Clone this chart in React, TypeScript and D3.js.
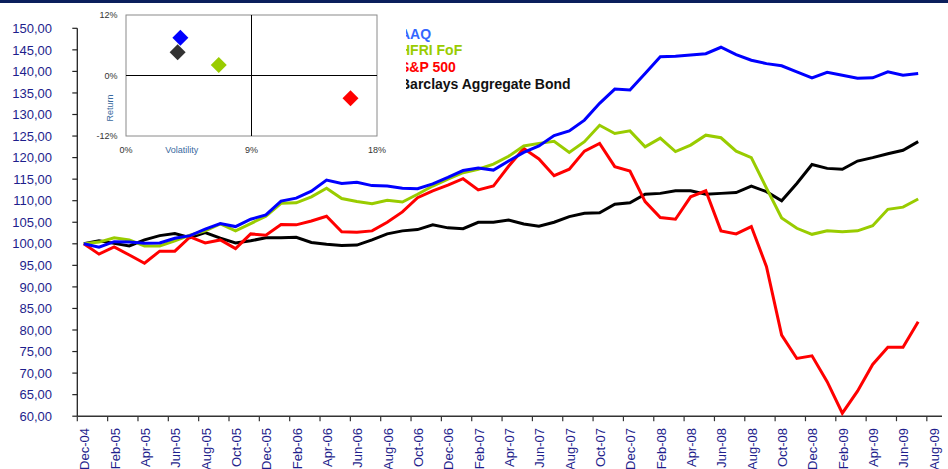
import React from 'react';
import * as d3 from 'd3';

// ---- data ----
const tickLabels = ["Dec-04","Feb-05","Apr-05","Jun-05","Aug-05","Oct-05","Dec-05","Feb-06","Apr-06","Jun-06","Aug-06","Oct-06","Dec-06","Feb-07","Apr-07","Jun-07","Aug-07","Oct-07","Dec-07","Feb-08","Apr-08","Jun-08","Aug-08","Oct-08","Dec-08","Feb-09","Apr-09","Jun-09","Aug-09"];

// monthly values, Dec-04 .. Jul-09
const aaq = [100,99.2,100.5,100.4,100.1,100.2,101.3,101.9,103.4,104.7,104.0,105.7,106.7,109.9,110.6,112.2,114.8,114.0,114.3,113.5,113.4,112.9,112.8,113.9,115.4,117.0,117.6,117.1,119.2,121.2,122.7,125.1,126.2,128.7,132.6,135.9,135.7,139.5,143.4,143.5,143.8,144.1,145.6,143.9,142.6,141.8,141.3,139.9,138.5,139.8,139.1,138.4,138.5,139.9,139.1,139.5];
const hfri = [100,100.4,101.4,100.9,99.5,99.5,100.7,102.0,103.0,104.6,103.0,104.7,106.4,109.4,109.5,110.9,112.9,110.5,109.8,109.3,110.1,109.7,111.5,113.4,115.0,116.5,117.3,118.5,120.3,122.7,123.3,123.8,121.2,123.7,127.5,125.6,126.2,122.5,124.5,121.4,122.9,125.2,124.6,121.5,120.0,112.9,106.0,103.6,102.2,103.0,102.8,103.0,104.2,108.0,108.5,110.4];
const sp500 = [100,97.6,99.3,97.4,95.5,98.3,98.3,101.6,100.2,100.9,98.9,102.3,102.0,104.5,104.4,105.3,106.4,102.8,102.7,103.0,105.0,107.4,110.7,112.3,113.6,115.1,112.5,113.4,118.0,122.1,119.7,115.8,117.3,121.5,123.3,117.9,116.9,109.8,106.1,105.7,110.9,112.3,103.0,102.3,104.0,94.7,78.8,73.4,74.0,68.0,60.7,65.8,72.0,76.0,76.0,81.9];
const barclays = [100,100.7,100.1,99.5,100.9,101.9,102.4,101.4,102.6,101.3,100.2,100.7,101.4,101.4,101.5,100.3,99.9,99.6,99.7,100.9,102.3,103.0,103.3,104.4,103.7,103.5,105.0,105.0,105.5,104.6,104.1,105.0,106.3,107.1,107.2,109.2,109.5,111.5,111.7,112.3,112.3,111.5,111.7,111.9,113.4,112.1,110.0,114.0,118.4,117.5,117.3,119.2,120.0,120.9,121.7,123.7];

const seriesNames = ["AAQ", "HFRI FoF", "S&P 500", "Barclays Aggregate Bond"];
const seriesColors = ["#0000FF", "#99CC00", "#FF0000", "#000000"];
const legendColors = ["#3366FF", "#99CC00", "#FF0000", "#111111"];

// inset: volatility (%) and return (%)
const scatterVol = [3.9, 3.7, 6.65, 16.1];
const scatterRet = [7.5, 4.6, 2.1, -4.5];
const scatterColors = ["#0000FF", "#333333", "#99CC00", "#FF0000"];
const insetXTicks = [0, 9, 18];
const insetYTicks = [12, 0, -12];

const yTicks = d3.range(60, 150.001, 5);

export default function App() {
  const W = 948, H = 469;
  const x = d3.scaleLinear().domain([0, 57]).range([77.3, 942]);
  const y = d3.scaleLinear().domain([60, 150]).range([416.2, 28.3]);
  const offset = 0.43;
  const line = d3.line<number>().x((_, i) => x(i + offset)).y(d => y(d));

  const ix = d3.scaleLinear().domain([0, 18]).range([126, 377]);
  const iy = d3.scaleLinear().domain([-12, 12]).range([136, 15]);

  const navy = "#1E1E8C";
  const drawOrder = [3, 2, 1, 0];
  const allSeries = [aaq, hfri, sp500, barclays];

  return (
    <svg width={W} height={H} style={{ position: 'absolute', left: 0, top: 0, background: '#fff' }}
      fontFamily="Arial, 'Liberation Sans', sans-serif">
      <rect x={0} y={0} width={W} height={H} fill="#fff" />
      <rect x={0} y={0} width={W} height={3} fill="#0B1F5C" />

      {/* y axis */}
      <line x1={x(0)} x2={x(0)} y1={y(150)} y2={y(60)} stroke="#222" strokeWidth={1.3} />
      {yTicks.map(t => (
        <g key={t}>
          <line x1={x(0) - 5} x2={x(0)} y1={y(t)} y2={y(t)} stroke="#222" strokeWidth={1.2} />
          <text x={52} y={y(t)} dy="0.36em" textAnchor="end" fontSize={13} fill={navy}>
            {t.toFixed(2).replace('.', ',')}
          </text>
        </g>
      ))}

      {/* x axis */}
      <line x1={x(0)} x2={x(57)} y1={y(60)} y2={y(60)} stroke="#333" strokeWidth={1.6} />
      {tickLabels.map((lab, k) => {
        const xv = x(k * 2);
        return (
          <g key={lab}>
            <line x1={xv} x2={xv} y1={y(60)} y2={y(60) + 5} stroke="#333" strokeWidth={1.2} />
            <text transform={`translate(${xv + 12},428) rotate(-90)`} textAnchor="end" fontSize={13} fill={navy}>{lab}</text>
          </g>
        );
      })}

      {/* series lines */}
      {drawOrder.map(si => (
        <path key={si} d={line(allSeries[si]) || ''} fill="none" stroke={seriesColors[si]} strokeWidth={3} strokeLinejoin="miter" />
      ))}

      {/* legend */}
      {seriesNames.map((n, i) => (
        <text key={n} x={400} y={38.5 + i * 16.9} fontSize={14} fontWeight="bold" fill={legendColors[i]}>{n}</text>
      ))}

      {/* inset chart (white area covers legend start) */}
      <rect x={92} y={6} width={314} height={152} fill="#fff" />
      <rect x={ix(0)} y={iy(12)} width={ix(18) - ix(0)} height={iy(-12) - iy(12)} fill="#fff" stroke="#8a8a8a" strokeWidth={1} />
      <line x1={ix(9)} x2={ix(9)} y1={iy(12)} y2={iy(-12)} stroke="#000" strokeWidth={1} />
      <line x1={ix(0)} x2={ix(18)} y1={iy(0)} y2={iy(0)} stroke="#000" strokeWidth={1} />
      {insetYTicks.map(t => (
        <text key={t} x={117.5} y={iy(t)} dy="0.35em" textAnchor="end" fontSize={9} fill="#333">{t}%</text>
      ))}
      {insetXTicks.map(t => (
        <text key={t} x={ix(t)} y={150} dy="0.35em" textAnchor="middle" fontSize={9} fill="#333">{t}%</text>
      ))}
      <text x={181.7} y={150} dy="0.35em" textAnchor="middle" fontSize={9} fill="#3A6A9E">Volatility</text>
      <text transform="translate(110,108) rotate(-90)" dy="0.35em" textAnchor="middle" fontSize={9} fill="#3A6A9E">Return</text>
      {scatterVol.map((v, i) => {
        const cx = ix(v), cy = iy(scatterRet[i]);
        const r = 8;
        return (
          <path key={i} d={`M${cx},${cy - r}L${cx + r},${cy}L${cx},${cy + r}L${cx - r},${cy}Z`} fill={scatterColors[i]} />
        );
      })}
    </svg>
  );
}
